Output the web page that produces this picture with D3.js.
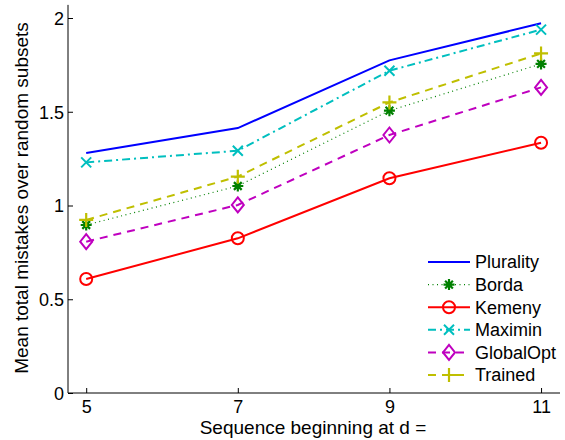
<!DOCTYPE html>
<html><head><meta charset="utf-8">
<script src="https://cdn.jsdelivr.net/npm/d3@7"></script>
<style>body{margin:0;background:#fff}svg{display:block}</style>
</head><body>
<svg id="c" width="565" height="440"></svg>
<script>
const xValues = [5, 7, 9, 11];
const xTicks = [5, 7, 9, 11];
const xTickLabels = ["5", "7", "9", "11"];
const yTicks = [0, 0.5, 1, 1.5, 2];
const yTickLabels = ["0", "0.5", "1", "1.5", "2"];
const plurality = [1.28, 1.413, 1.774, 1.972];
const borda = [0.896, 1.104, 1.506, 1.755];
const kemeny = [0.608, 0.825, 1.145, 1.335];
const maximin = [1.230, 1.292, 1.719, 1.938];
const globalOpt = [0.807, 1.003, 1.376, 1.630];
const trained = [0.923, 1.154, 1.550, 1.811];
const seriesNames = ["Plurality", "Borda", "Kemeny", "Maximin", "GlobalOpt", "Trained"];

const series = [
  {name: seriesNames[0], values: plurality, color: "#0000ff", dash: null, marker: "none"},
  {name: seriesNames[1], values: borda, color: "#008000", dash: "1,3.5", marker: "star", width: 1.2},
  {name: seriesNames[2], values: kemeny, color: "#ff0000", dash: null, marker: "circle"},
  {name: seriesNames[3], values: maximin, color: "#00bfbf", dash: "8,4,2,4", marker: "x"},
  {name: seriesNames[4], values: globalOpt, color: "#bf00bf", dash: "8,6", marker: "diamond"},
  {name: seriesNames[5], values: trained, color: "#bfbf00", dash: "8,6", marker: "plus"}
];

const svg = d3.select("#c");
const x = d3.scaleLinear().domain([4.76, 11.25]).range([68, 560]);
const y = d3.scaleLinear().domain([0, 2]).range([393, 18]);
const font = "'Liberation Sans', Arial, Helvetica, sans-serif";
const fs = 18;
const fsLabel = 19;

// axes
const xAxis = d3.axisBottom(x).tickValues(xTicks).tickFormat((d, i) => xTickLabels[i]).tickSize(-5).tickPadding(7).tickSizeOuter(0);
const gx = svg.append("g").attr("transform", "translate(0,393)").call(xAxis);
const yAxis = d3.axisLeft(y).tickValues(yTicks).tickFormat((d, i) => yTickLabels[i]).tickSize(-5).tickPadding(4).tickSizeOuter(0);
const gy = svg.append("g").attr("transform", "translate(68,0)").call(yAxis);
[gx, gy].forEach(g => {
  g.select(".domain").attr("stroke", "#000").attr("stroke-width", 1);
  g.selectAll(".tick line").attr("stroke", "#000");
  g.selectAll(".tick text").attr("font-family", font).attr("font-size", fs).attr("fill", "#000");
});
gx.select(".domain").attr("d", `M${x.range()[0]},0H${x.range()[1]}`);
gy.select(".domain").attr("d", `M0,${y(2.07)}V${y(0)}`);
gy.selectAll(".tick text").attr("dy", "0.35em");

// axis labels
svg.append("text").attr("x", 313).attr("y", 434).attr("text-anchor", "middle")
  .attr("font-family", font).attr("font-size", fsLabel).text("Sequence beginning at d =");
svg.append("text").attr("transform", "translate(28,198) rotate(-90)").attr("text-anchor", "middle")
  .attr("font-family", font).attr("font-size", fsLabel).text("Mean total mistakes over random subsets");

function drawMarker(g, type, cx, cy, color) {
  if (type === "circle") {
    g.append("circle").attr("cx", cx).attr("cy", cy).attr("r", 6).attr("fill", "none").attr("stroke", color).attr("stroke-width", 2);
  } else if (type === "diamond") {
    const s = 7.5;
    g.append("path").attr("d", `M${cx},${cy-s}L${cx+s*0.8},${cy}L${cx},${cy+s}L${cx-s*0.8},${cy}Z`).attr("fill", "none").attr("stroke", color).attr("stroke-width", 2);
  } else if (type === "x") {
    const s = 5;
    g.append("path").attr("d", `M${cx-s},${cy-s}L${cx+s},${cy+s}M${cx-s},${cy+s}L${cx+s},${cy-s}`).attr("stroke", color).attr("stroke-width", 2);
  } else if (type === "plus") {
    const s = 7;
    g.append("path").attr("d", `M${cx-s},${cy}L${cx+s},${cy}M${cx},${cy-s}L${cx},${cy+s}`).attr("stroke", color).attr("stroke-width", 2.2);
  } else if (type === "star") {
    const s = 5.5;
    let d = "";
    for (let k = 0; k < 4; k++) {
      const a = k * Math.PI / 4;
      d += `M${cx - s*Math.cos(a)},${cy - s*Math.sin(a)}L${cx + s*Math.cos(a)},${cy + s*Math.sin(a)}`;
    }
    g.append("path").attr("d", d).attr("stroke", color).attr("stroke-width", 2.2);
  }
}

const line = d3.line().x((d, i) => x(xValues[i])).y(d => y(d));
const plot = svg.append("g");
series.forEach(s => {
  plot.append("path").datum(s.values).attr("d", line).attr("fill", "none")
    .attr("stroke", s.color).attr("stroke-width", s.width || 2)
    .attr("stroke-dasharray", s.dash);
  s.values.forEach((v, i) => drawMarker(plot, s.marker, x(xValues[i]), y(v), s.color));
});

// legend
const lg = svg.append("g");
series.forEach((s, i) => {
  const ly = 262 + i * 22.6;
  lg.append("path").attr("d", `M428,${ly}H470`).attr("stroke", s.color)
    .attr("stroke-width", s.width || 2).attr("stroke-dasharray", s.dash);
  drawMarker(lg, s.marker, 449, ly, s.color);
  lg.append("text").attr("x", 475).attr("y", ly).attr("dy", "0.35em")
    .attr("font-family", font).attr("font-size", fs).text(s.name);
});
</script>
</body></html>
